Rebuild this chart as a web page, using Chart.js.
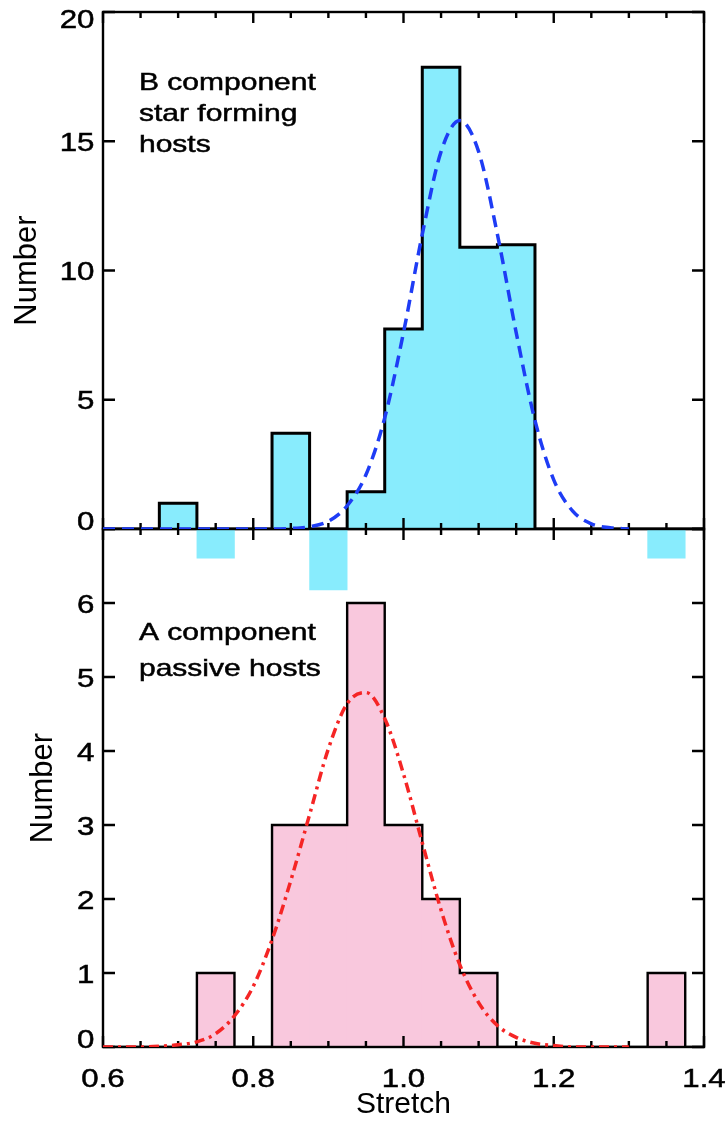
<!DOCTYPE html>
<html>
<head>
<meta charset="utf-8">
<title>Stretch distributions</title>
<script src="https://cdn.jsdelivr.net/npm/chart.js@4.4.1/dist/chart.umd.min.js"></script>
<style>
  html, body { margin: 0; padding: 0; background: #fff; }
  #wrap { position: relative; width: 727px; height: 1121px; }
  #wrap canvas { position: absolute; left: 0; top: 0; }
</style>
</head>
<body>
<div id="wrap">
  <canvas id="passiveChart" width="727" height="1121"></canvas>
  <canvas id="formingChart" width="727" height="1121"></canvas>
</div>
<script>
// histogram bins: centres, width 0.05
const binCentres = [0.60, 0.65, 0.70, 0.75, 0.80, 0.85, 0.90, 0.95, 1.00,
                    1.05, 1.10, 1.15, 1.20, 1.25, 1.30, 1.35, 1.40];
// B component (star forming hosts) - weighted counts, some bins negative
const countsB = [0, 0, 1.0, -1.13, 0, 3.7, -2.36, 1.44, 7.74,
                 17.86, 10.9, 11.0, 0, 0, 0, -1.13, 0];
// A component (passive hosts)
const countsA = [0, 0, 0, 1, 0, 3, 3, 6, 3,
                 2, 1, 0, 0, 0, 0, 1, 0];

// gaussian fits, sampled along stretch
const fitX = [0.600, 0.625, 0.650, 0.675, 0.700, 0.725, 0.750, 0.775, 0.800,
              0.825, 0.850, 0.875, 0.900, 0.925, 0.950, 0.975, 1.000, 1.025,
              1.050, 1.075, 1.100, 1.125, 1.150, 1.175, 1.200, 1.225, 1.250,
              1.275, 1.300];
const fitB = [0, 0, 0, 0, 0, 0, 0, 0, 0,
              0, 0.02, 0.09, 0.30, 0.9, 2.1, 4.3, 7.6, 11.4,
              14.6, 15.8, 14.6, 11.4, 7.6, 4.2, 1.9, 0.7, 0.2,
              0.05, 0];
const fitA = [0, 0, 0, 0.01, 0.03, 0.07, 0.18, 0.42, 0.82,
              1.45, 2.25, 3.14, 4.03, 4.64, 4.79, 4.44, 3.69, 2.76,
              1.85, 1.11, 0.60, 0.29, 0.13, 0.05, 0.02, 0, 0,
              0, 0];

const xTickLabels = ['0.6', '0.8', '1.0', '1.2', '1.4'];
const noteB = ['B component', 'star forming', 'hosts'];
const noteA = ['A component', 'passive hosts'];

const FONT = "'Liberation Sans', Arial, Helvetica, sans-serif";
Chart.defaults.font.family = FONT;
Chart.defaults.color = '#000';

const isMajor = v => Math.abs(v / 0.2 - Math.round(v / 0.2)) < 1e-6;
const pairs = (xs, ys) => xs.map((x, i) => ({ x: x, y: ys[i] }));

// fixed box sizes, no extra label padding
const fixBox = (w, h) => s => {
  if (w !== null) s.width = w;
  if (h !== null) s.height = h;
  s.paddingLeft = s.paddingRight = s.paddingTop = s.paddingBottom = 0;
};

// wide type, as in the plot
function wideText(ctx, text, x, y, align, sx) {
  ctx.save();
  ctx.translate(x, y);
  ctx.scale(sx, 1);
  ctx.textAlign = align;
  ctx.fillText(text, 0, 0);
  ctx.strokeText(text, 0, 0);
  ctx.restore();
}

// box frame with inward ticks, drawn right after the histogram outline
const framePlugin = {
  id: 'frame',
  afterDatasetDraw(chart, args) {
    if (args.index !== 1) return;
    const { ctx, chartArea: a, scales } = chart;
    ctx.save();
    ctx.strokeStyle = '#000';
    ctx.lineWidth = 2.4;
    ctx.strokeRect(a.left, a.top, a.right - a.left, a.bottom - a.top);
    ctx.beginPath();
    scales.x.ticks.forEach(t => {
      const px = scales.x.getPixelForValue(t.value);
      const len = isMajor(t.value) ? 11 : 6;
      ctx.moveTo(px, a.bottom); ctx.lineTo(px, a.bottom - len);
      ctx.moveTo(px, a.top); ctx.lineTo(px, a.top + len);
    });
    scales.y.ticks.forEach(t => {
      const py = scales.y.getPixelForValue(t.value);
      ctx.moveTo(a.left, py); ctx.lineTo(a.left + 12, py);
      ctx.moveTo(a.right, py); ctx.lineTo(a.right - 12, py);
    });
    ctx.stroke();
    ctx.restore();
  }
};

// tick numbers and the panel caption
const textPlugin = {
  id: 'texts',
  afterDraw(chart, args, o) {
    const { ctx, chartArea: a, scales } = chart;
    ctx.save();
    ctx.fillStyle = '#000';
    ctx.strokeStyle = '#000';
    ctx.lineWidth = 0.5;
    ctx.textBaseline = 'alphabetic';
    ctx.font = '26.5px ' + FONT;
    const ys = scales.y;
    ys.ticks.forEach(t => {
      if (!t.label) return;
      const py = ys.getPixelForValue(t.value);
      let dy = 9.5;
      if (t.value === ys.min) dy = 1;
      else if (t.value === ys.max) dy = 16;
      wideText(ctx, String(t.label), a.left - 8.5, py + dy, 'right', 1.18);
    });
    if (o.showX) {
      const xs = scales.x;
      xs.ticks.forEach(t => {
        if (!t.label) return;
        wideText(ctx, String(t.label), xs.getPixelForValue(t.value), a.bottom + 40, 'center', 1.18);
      });
    }
    ctx.font = '24px ' + FONT;
    o.lines.forEach((line, i) => {
      wideText(ctx, line, o.x, o.y + i * o.step, 'left', 1.25);
    });
    ctx.restore();
  }
};

function makePanel(id, p) {
  return new Chart(document.getElementById(id), {
    type: 'bar',
    data: {
      datasets: [
        {
          type: 'line',
          data: pairs(fitX, p.fit),
          borderColor: p.fitColor,
          borderWidth: 3.5,
          borderDash: p.dash,
          borderCapStyle: 'butt',
          pointRadius: 0,
          cubicInterpolationMode: 'monotone',
          order: 0
        },
        {
          type: 'line',
          data: pairs(binCentres, p.counts.map(v => Math.max(v, 0))),
          stepped: 'middle',
          borderColor: '#000',
          borderWidth: p.edgeWidth,
          pointRadius: 0,
          order: 1
        },
        {
          // empty bins are left out so no sliver is painted for them
          type: 'bar',
          data: pairs(binCentres, p.counts).filter(d => d.y !== 0),
          backgroundColor: p.fill,
          borderWidth: 0,
          barPercentage: 1,
          categoryPercentage: 1,
          clip: false,
          order: 2
        }
      ]
    },
    options: {
      responsive: false,
      animation: false,
      events: [],
      layout: { padding: 0 },
      plugins: {
        legend: { display: false },
        tooltip: { enabled: false },
        texts: { showX: p.showX, lines: p.note.lines, x: p.note.x, y: p.note.y, step: p.note.step }
      },
      scales: {
        x: {
          type: 'linear', position: 'bottom', min: 0.6, max: 1.4, offset: false,
          grid: { display: false, drawTicks: false, offset: false },
          border: { display: false },
          ticks: {
            display: false, stepSize: 0.05, maxTicksLimit: 100, autoSkip: false,
            callback: v => isMajor(v) ? xTickLabels[Math.round((v - 0.6) / 0.2)] : ''
          },
          title: {
            display: p.showX, text: 'Stretch', font: { size: 30, lineHeight: 1 },
            padding: { top: 0, bottom: 1.5 }
          },
          afterFit: fixBox(null, p.bottomGap)
        },
        xTop: {
          type: 'linear', position: 'top', min: 0.6, max: 1.4, offset: false,
          grid: { display: false, drawTicks: false, offset: false },
          border: { display: false },
          ticks: { display: false },
          afterFit: fixBox(null, p.topGap)
        },
        y: {
          type: 'linear', position: 'left', min: 0, max: p.yMax,
          grid: { display: false, drawTicks: false },
          border: { display: false },
          ticks: {
            display: false, stepSize: p.yStep,
            callback: v => (p.hideTop && v === p.yMax) ? '' : String(v)
          },
          title: {
            display: true, text: 'Number', font: { size: 31 },
            padding: { top: p.titlePad, bottom: 0 }
          },
          afterFit: fixBox(103, null)
        },
        yR: {
          type: 'linear', position: 'right', min: 0, max: p.yMax,
          grid: { display: false, drawTicks: false },
          border: { display: false },
          ticks: { display: false },
          afterFit: fixBox(23, null)
        }
      }
    },
    plugins: [framePlugin, textPlugin]
  });
}

// lower panel: A component, passive hosts
makePanel('passiveChart', {
  counts: countsA, fit: fitA, fill: '#f9c8dd', fitColor: '#f52525',
  dash: [10, 5, 3, 5], edgeWidth: 2.4,
  yMax: 7, yStep: 1, hideTop: true, titlePad: 25,
  showX: true, topGap: 529, bottomGap: 74,
  note: { lines: noteA, x: 139, y: 640, step: 35.5 }
});

// upper panel: B component, star forming hosts
makePanel('formingChart', {
  counts: countsB, fit: fitB, fill: '#88ecfd', fitColor: '#1e3cf5',
  dash: [12, 7], edgeWidth: 3,
  yMax: 20, yStep: 5, hideTop: false, titlePad: 9,
  showX: false, topGap: 12, bottomGap: 592,
  note: { lines: noteB, x: 139, y: 90, step: 31 }
});
</script>
</body>
</html>
